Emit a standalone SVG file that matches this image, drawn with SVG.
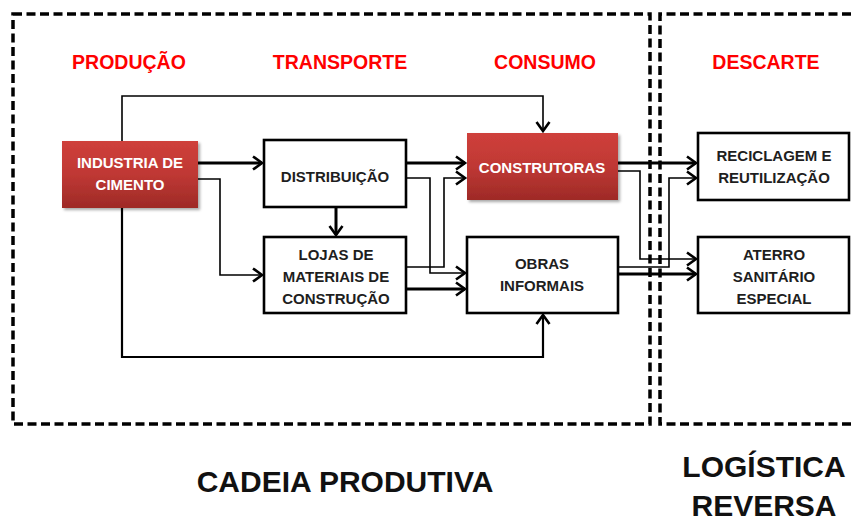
<svg xmlns="http://www.w3.org/2000/svg" width="851" height="523" viewBox="0 0 851 523">
<style>
text{font-family:"Liberation Sans",Arial,sans-serif;font-weight:bold;text-anchor:middle}
.hdr{fill:#ff0000;font-size:19.5px}
.big{fill:#111;font-size:30px}
.nt{fill:#1e1e1e;font-size:15px}
.wt{fill:#ffffff;font-size:15px}
.box{fill:#ffffff;stroke:#000;stroke-width:2.6}
.red{fill:url(#rg);filter:url(#sh)}
.dash{fill:none;stroke:#000;stroke-width:3.5;stroke-dasharray:9 4.5}
.c{fill:none;stroke:#000;stroke-linejoin:miter}
.thick{stroke-width:3}
.thin{stroke-width:1.6}
.mid{stroke-width:2.2}
.arr{marker-end:url(#ah)}
</style>
<defs>
<linearGradient id="rg" x1="0" y1="0" x2="0" y2="1">
<stop offset="0" stop-color="#cf403b"/>
<stop offset="0.5" stop-color="#bf3834"/>
<stop offset="1" stop-color="#9e2a27"/>
</linearGradient>
<filter id="sh" x="-10%" y="-10%" width="125%" height="130%">
<feGaussianBlur in="SourceAlpha" stdDeviation="1.5"/>
<feOffset dx="1.5" dy="2" result="b"/>
<feComponentTransfer><feFuncA type="linear" slope="0.35"/></feComponentTransfer>
<feMerge><feMergeNode/><feMergeNode in="SourceGraphic"/></feMerge>
</filter>
<marker id="ah" markerUnits="userSpaceOnUse" markerWidth="16" markerHeight="16" viewBox="-12 -8 14 16" refX="0" refY="0" orient="auto" overflow="visible">
<path d="M-9,-6.5 L0,0 L-9,6.5" fill="none" stroke="#000" stroke-width="2.6"/>
</marker>
</defs>

<g id="frames">
<rect class="dash" x="13" y="14" width="637" height="410"/>
<path class="dash" d="M851,14 H660 V424 H851"/>
</g>

<g id="headers">
<text class="hdr" x="129" y="69">PRODUÇÃO</text>
<text class="hdr" x="340" y="69">TRANSPORTE</text>
<text class="hdr" x="545" y="69">CONSUMO</text>
<text class="hdr" x="766" y="69">DESCARTE</text>
<text class="big" x="345" y="492">CADEIA PRODUTIVA</text>
<text class="big" x="764" y="477">LOGÍSTICA</text>
<text class="big" x="764" y="516">REVERSA</text>
</g>

<g id="connectors">
<path class="c thin arr" d="M122,141 V96 H543 V131"/>
<path class="c thick arr" d="M198,163 H262"/>
<path class="c thin arr" d="M198,179 H220 V275 H262"/>
<path class="c mid arr" d="M122,208 V357 H543 V315"/>
<path class="c thick arr" d="M336,207 V235"/>
<path class="c thick arr" d="M406,163 H465"/>
<path class="c thin arr" d="M406,178 H430 V273 H465"/>
<path class="c thin arr" d="M406,267 H444 V178 H465"/>
<path class="c thick arr" d="M406,289 H465"/>
<path class="c thick arr" d="M618,163 H696"/>
<path class="c thin arr" d="M618,171 H640 V259 H696"/>
<path class="c thin arr" d="M618,267 H669 V178 H696"/>
<path class="c thick arr" d="M618,274 H696"/>
</g>

<g id="industria">
<rect class="red" x="62" y="141" width="136" height="67"/>
<text class="wt" x="130" y="168">INDUSTRIA DE</text>
<text class="wt" x="130" y="190">CIMENTO</text>
</g>
<g id="distribuicao">
<rect class="box" x="264" y="140" width="142" height="67"/>
<text class="nt" x="335" y="182">DISTRIBUIÇÃO</text>
</g>
<g id="lojas">
<rect class="box" x="264" y="237" width="142" height="76"/>
<text class="nt" x="336" y="260">LOJAS DE</text>
<text class="nt" x="336" y="282">MATERIAIS DE</text>
<text class="nt" x="336" y="304">CONSTRUÇÃO</text>
</g>
<g id="construtoras">
<rect class="red" x="467" y="133" width="151" height="67"/>
<text class="wt" x="542" y="173">CONSTRUTORAS</text>
</g>
<g id="obras">
<rect class="box" x="467" y="237" width="151" height="76"/>
<text class="nt" x="542" y="269">OBRAS</text>
<text class="nt" x="542" y="291">INFORMAIS</text>
</g>
<g id="reciclagem">
<rect class="box" x="698" y="133" width="151" height="67"/>
<text class="nt" x="774" y="161">RECICLAGEM E</text>
<text class="nt" x="774" y="183">REUTILIZAÇÃO</text>
</g>
<g id="aterro">
<rect class="box" x="698" y="237" width="151" height="76"/>
<text class="nt" x="774" y="260">ATERRO</text>
<text class="nt" x="774" y="282">SANITÁRIO</text>
<text class="nt" x="774" y="304">ESPECIAL</text>
</g>
</svg>
